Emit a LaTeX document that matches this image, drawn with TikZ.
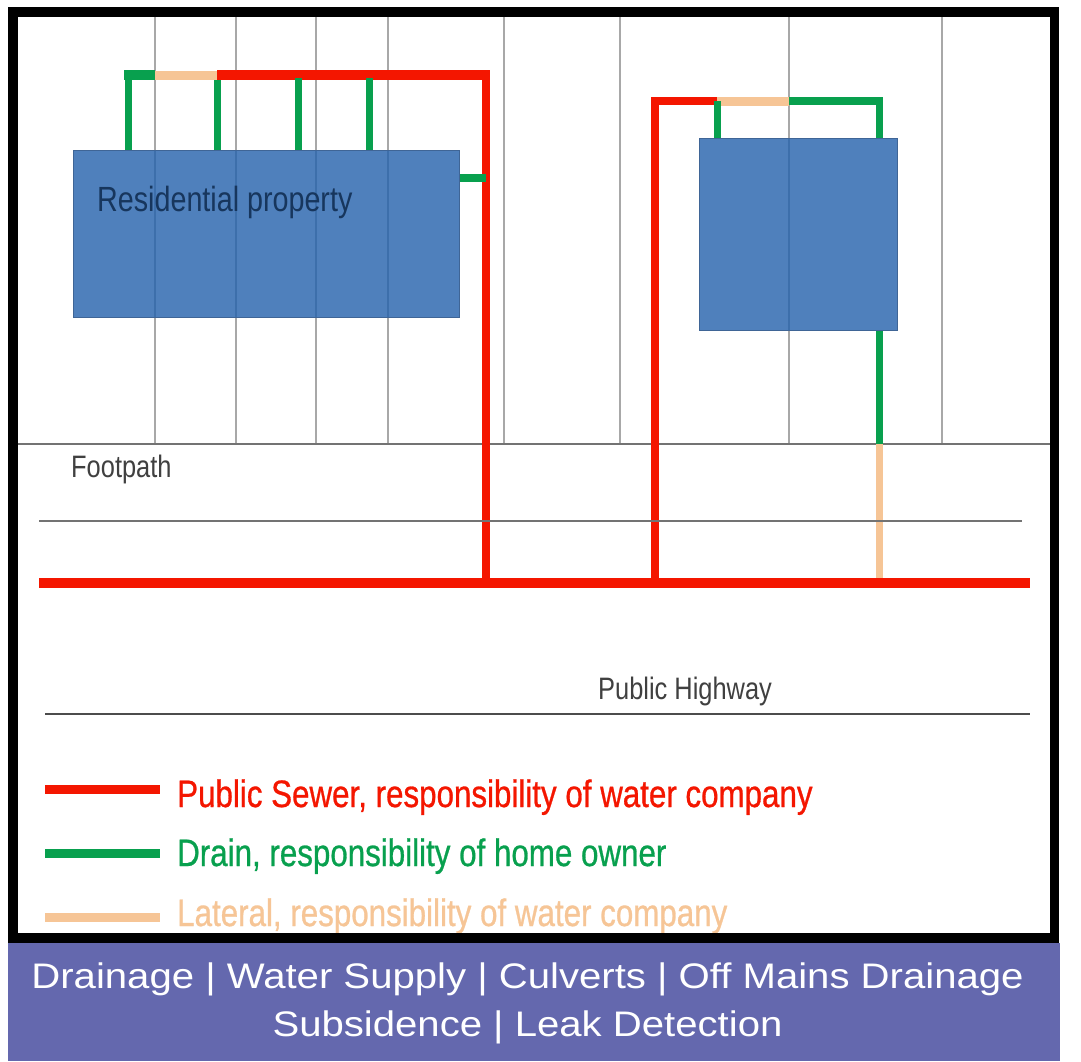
\documentclass[tikz,border=0pt]{standalone}
\usepackage{fontspec}
\setmainfont{Liberation Sans}
\newfontfamily\narrowfont[FakeStretch=0.82]{Liberation Sans}
\newfontfamily\legendfont[FakeStretch=0.82,FakeBold=0.7]{Liberation Sans}
\newfontfamily\bandfont[FakeStretch=1.13]{Liberation Sans}
\usetikzlibrary{positioning}
\definecolor{sewerred}{HTML}{F41600}
\definecolor{draingreen}{HTML}{08A04E}
\definecolor{lateraltan}{HTML}{F6C596}
\definecolor{housefill}{HTML}{2361AC}
\definecolor{houseedge}{HTML}{3F6596}
\definecolor{housetext}{HTML}{17365D}
\definecolor{bandblue}{HTML}{6468AE}
\definecolor{fencegray}{HTML}{A8A8A8}

\begin{document}
\begin{tikzpicture}[
        x=1pt, y=-1pt,
        house/.style={rectangle, draw=houseedge, line width=1.5pt, fill=housefill, fill opacity=0.8, text opacity=1, anchor=north west, inner sep=0pt, outer sep=0pt},
        fence/.style={draw=fencegray, line width=1.8pt},
        road/.style={draw=black!70, line width=2pt},
        sewer/.style={draw=sewerred, line width=7.5pt},
        drain/.style={draw=draingreen, line width=7pt},
        lateral/.style={draw=lateraltan, line width=9pt},
        flat/.style={line width=9.5pt},
        label/.style={font=\narrowfont\fontsize{31}{36}\selectfont, text=black!75, inner sep=0pt},
        legend/.style={font=\legendfont\fontsize{38.2}{42}\selectfont, inner sep=0pt, anchor=base west},
        bandtext/.style={font=\bandfont\fontsize{35.5}{40}\selectfont, text=white, inner sep=0pt, anchor=base}
    ]
        \useasboundingbox (0,0) rectangle (1081,1061);
        \fill[white] (0,0) rectangle (1081,1061);

        % fence lines behind the houses
        \coordinate (pathl) at (17,444);
        \coordinate (pathr) at (1051,444);
        \foreach \i/\xpos in {a/155, b/236, c/316, d/388, e/504, f/620, g/789, h/942} {
            \coordinate (top\i) at (\xpos,17);
            \coordinate (bot\i) at (\xpos,444);
            \draw[fence] (top\i) -- (bot\i);
        }
        \draw[road, draw=black!55] (pathl) -- (pathr);

        % houses
        \node[house, minimum width=386pt, minimum height=167pt] (bigbox) at (73.5,150.5) {};
        \node[house, minimum width=198pt, minimum height=192pt] (smallbox) at (699.5,138.5) {};
        \node[font=\narrowfont\fontsize{35}{40}\selectfont, text=housetext, inner sep=0pt, anchor=base west] (bigname) at (97,211) {Residential property};

        % left house pipes
        \coordinate (lefta) at (128,150);
        \coordinate (leftb) at (128,75);
        \coordinate (leftk) at (124,75);
        \coordinate (leftc) at (155,75);
        \coordinate (leftd) at (217,75);
        \coordinate (leftl) at (217,80);
        \coordinate (lefte) at (490,75);
        \coordinate (leftf) at (217,150);
        \coordinate (leftg) at (298,150);
        \coordinate (lefth) at (298,78);
        \coordinate (lefti) at (369,150);
        \coordinate (leftj) at (369,78);
        \coordinate (stub) at (460,178);
        \coordinate (stubend) at (486,178);
        \coordinate (mainl) at (39,583);
        \coordinate (mainr) at (1030,583);
        \coordinate (maina) at (486,583);
        \coordinate (mainb) at (655,583);
        \coordinate (mainc) at (879,580);
        \coordinate (turna) at (486,71);

        \draw[drain] (lefta) -- (leftb);
        \draw[drain, flat] (leftk) -- (leftc);
        \draw[lateral] (leftc) -- (leftd);
        \draw[sewer] (turna) -- (maina);
        \draw[sewer, flat] (leftd) -- (lefte);
        \draw[drain] (leftf) -- (leftl);
        \draw[drain] (leftg) -- (lefth);
        \draw[drain] (lefti) -- (leftj);
        \draw[drain, line width=8.5pt] (stub) -- (stubend);

        % right house pipes
        \coordinate (righta) at (655,101);
        \coordinate (rightk) at (651.25,101);
        \coordinate (rightb) at (717,101);
        \coordinate (rightc) at (789,101);
        \coordinate (rightd) at (879,101);
        \coordinate (rightl) at (883,101);
        \coordinate (righte) at (879,138);
        \coordinate (rightf) at (717,138);
        \coordinate (rightg) at (879,331);
        \coordinate (righth) at (879,444);

        \draw[sewer] (mainb) -- (righta);
        \draw[sewer, line width=8.5pt] (rightk) -- (rightb);
        \draw[lateral] (rightb) -- (rightc);
        \draw[drain, line width=8pt] (rightc) -- (rightl);
        \draw[drain] (rightd) -- (righte);
        \draw[drain] (rightb) -- (rightf);
        \draw[drain] (rightg) -- (righth);
        \draw[lateral, line width=7pt] (righth) -- (mainc);
        \draw[sewer, flat] (mainl) -- (mainr);

        % road lines
        \coordinate (kerbl) at (39,521);
        \coordinate (kerbr) at (1022,521);
        \coordinate (highl) at (45,714);
        \coordinate (highr) at (1030,714);
        \draw[road, draw=black!55] (kerbl) -- (kerbr);
        \draw[road] (highl) -- (highr);
        \node[label, anchor=base west] (footpath) at (71,477) {Footpath};
        \node[label, anchor=base west] (highway) at (598,699) {Public Highway};

        % legend
        \coordinate (keya) at (45,789);
        \coordinate (keyb) at (160,789);
        \coordinate (keyc) at (45,853);
        \coordinate (keyd) at (160,853);
        \coordinate (keye) at (45,917);
        \coordinate (keyf) at (160,917);
        \draw[sewer, line width=9pt] (keya) -- (keyb);
        \draw[drain, line width=9pt] (keyc) -- (keyd);
        \draw[lateral] (keye) -- (keyf);
        \node[legend, text=sewerred] (sewertext) at (177,807) {Public Sewer, responsibility of water company};
        \node[legend, text=draingreen] (draintext) at (177,866) {Drain, responsibility of home owner};
        \node[legend, text=lateraltan] (lateraltext) at (177,926) {Lateral, responsibility of water company};

        % frame and band
        \node[draw=black, line width=9.5pt, minimum width=1041.5pt, minimum height=926pt, inner sep=0pt, outer sep=0pt, anchor=north west] (frame) at (12.75,12) {};
        \fill[bandblue] (8,943) rectangle (1060,1061);
        \node[bandtext] (bandone) at (527.5,988) {Drainage | Water Supply | Culverts | Off Mains Drainage};
        \node[bandtext] (bandtwo) at (527.5,1036) {Subsidence | Leak Detection};
    \end{tikzpicture}
\end{document}
